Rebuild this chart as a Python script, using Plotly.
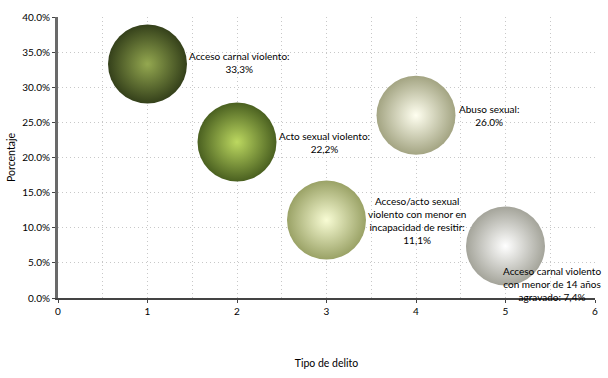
import plotly.graph_objects as go

# Data
tipo = [1, 2, 3, 4, 5]
porcentaje = [0.333, 0.222, 0.111, 0.260, 0.074]
etiquetas = [
    "Acceso carnal violento:<br>33,3%",
    "Acto sexual violento:<br>22,2%",
    "Acceso/acto sexual<br>violento con menor en<br>incapacidad de resitir:<br>11,1%",
    "Abuso sexual:<br>26.0%",
    "Acceso carnal violento<br>con menor de 14 años<br>agravado: 7,4%",
]
y_ticks = [0, 0.05, 0.10, 0.15, 0.20, 0.25, 0.30, 0.35, 0.40]
x_ticks = [0, 1, 2, 3, 4, 5, 6]

# Styles
outer_colors = ["#34401a", "#4a6020", "#9aa266", "#a3a482", "#a4a49a"]
center_colors = ["#94a850", "#bcd860", "#f8fcd4", "#fffff0", "#ffffff"]
FONT = "Lato"
GRID = "#c8c8c8"

fig = go.Figure()
for i in range(len(tipo)):
    fig.add_trace(go.Scatter(
        x=[tipo[i]], y=[porcentaje[i]],
        mode="markers",
        marker=dict(size=79, color=outer_colors[i],
                    gradient=dict(type="radial", color=center_colors[i]),
                    line=dict(width=0), opacity=1),
        showlegend=False, hoverinfo="skip",
    ))

# label placement (style offsets)
label_style = [
    dict(xanchor="left", yanchor="middle", xshift=39, yshift=2),
    dict(xanchor="left", yanchor="middle", xshift=40, yshift=0),
    dict(xanchor="left", yanchor="middle", xshift=39, yshift=0),
    dict(xanchor="left", yanchor="middle", xshift=41, yshift=0),
    dict(xanchor="center", yanchor="top", xshift=46, yshift=-17),
]
for i in range(len(tipo)):
    fig.add_annotation(x=tipo[i], y=porcentaje[i], text=etiquetas[i],
                       showarrow=False, align="center",
                       font=dict(family=FONT, size=10, color="#000000"),
                       **label_style[i])

fig.update_layout(
    width=608, height=378,
    margin=dict(l=57, r=13, t=10, b=80),
    paper_bgcolor="white", plot_bgcolor="white",
    font=dict(family=FONT, size=10, color="#000000"),
    xaxis=dict(
        range=[0, 6], tickvals=x_ticks, ticktext=[str(v) for v in x_ticks],
        showline=True, linecolor="#444444", linewidth=2,
        ticks="outside", ticklen=3, tickcolor="#444444",
        showgrid=True, gridcolor=GRID, griddash="1px,3px", gridwidth=1,
        minor=dict(dtick=0.5, showgrid=True, gridcolor=GRID, griddash="1px,3px", ticks=""),
        zeroline=False,
        title=dict(text="Tipo de delito", font=dict(family=FONT, size=10.5), standoff=44),
        tickfont=dict(family=FONT, size=10),
    ),
    yaxis=dict(
        range=[0, 0.40], tickvals=y_ticks, tickformat=".1%",
        showline=True, linecolor="#6a6a6a", linewidth=3,
        ticks="outside", ticklen=3, tickcolor="#444444",
        showgrid=True, gridcolor=GRID, griddash="1px,3px", gridwidth=1,
        zeroline=False,
        title=dict(text="Porcentaje", font=dict(family=FONT, size=10.5), standoff=5),
        tickfont=dict(family=FONT, size=10),
    ),
)

fig.write_html("out.html", config={"displayModeBar": False},
               post_script="document.body.style.margin='0';")
